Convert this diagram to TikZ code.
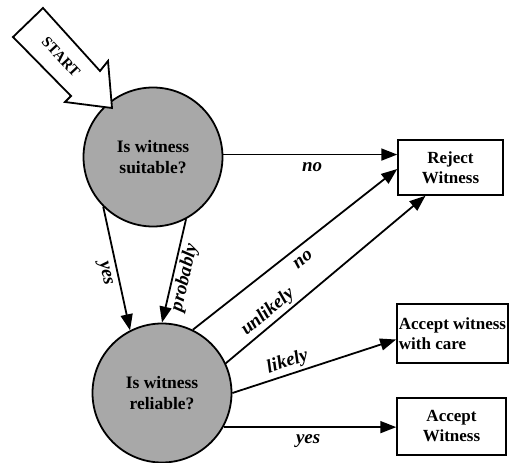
\documentclass[tikz,border=0pt]{standalone}
\usepackage{fontspec}
\setmainfont{Liberation Serif}
\usetikzlibrary{arrows.meta}
\definecolor{qfill}{RGB}{168,168,168}
\begin{document}
\begin{tikzpicture}[x=1pt,y=-1pt,
  question/.style={circle,draw,line width=1.8pt,fill=qfill,minimum size=139pt,inner sep=0pt,
    align=center,font=\fontsize{17.5}{21}\selectfont\bfseries},
  outcome/.style={draw,line width=1.5pt,fill=white,inner sep=0pt,
    font=\fontsize{17}{20}\selectfont\bfseries},
  flow/.style={line width=1.8pt,-{Triangle[length=16pt,width=12pt]}},
  lbl/.style={font=\fontsize{19}{22}\selectfont\bfseries\itshape,inner sep=2.5pt}]
\useasboundingbox (0,0) rectangle (509,463);

% decision nodes
\node[question] (suit) at (153,157) {Is witness\\suitable?};
\node[question] (rel) at (162,393) {Is witness\\reliable?};

% outcome boxes
\node[outcome,minimum width=105pt,minimum height=55pt,align=center] (rej) at (450.5,167.5) {Reject\\Witness};
\node[outcome,minimum width=111pt,minimum height=59pt,align=left,inner xsep=2pt] (care) at (452.5,333.5) {Accept witness\\with care};
\node[outcome,minimum width=109pt,minimum height=57pt,align=center] (acc) at (451.5,426.5) {Accept\\Witness};

% start marker
\draw[line width=1.8pt,fill=white,line join=miter]
  (43,8) -- (100,71) -- (108,61) -- (112,108) -- (65,102) -- (71,96) -- (13,37) -- cycle;
\node[font=\fontsize{15}{17}\selectfont\bfseries,rotate=-47] (start) at (61,57) {START};

% connectors
\draw[flow] (suit.2) -- node[lbl,pos=0.51,below=5pt] {no} (suit.2 -| rej.west);
\draw[flow] (suit.225) -- node[lbl,pos=0.52,sloped,below=3pt] {yes} (rel.117);
\draw[flow] (suit.298) -- node[lbl,pos=0.54,sloped,below] {probably} (rel.90);
\draw[flow] (rel.64) -- node[lbl,pos=0.5,sloped,below=5pt] {no} ([yshift=-1.5pt]rej.west);
\draw[flow] (rel.25) -- node[lbl,pos=0.25,sloped,above] {unlikely} ([xshift=-25pt]rej.south);
\draw[flow] (rel.0) -- node[lbl,pos=0.36,sloped,above] {likely} ([yshift=-6pt]care.west);
\draw[flow] (rel.-29) -- node[lbl,pos=0.49,below=4pt] {yes} (rel.-29 -| acc.west);
\end{tikzpicture}
\end{document}
